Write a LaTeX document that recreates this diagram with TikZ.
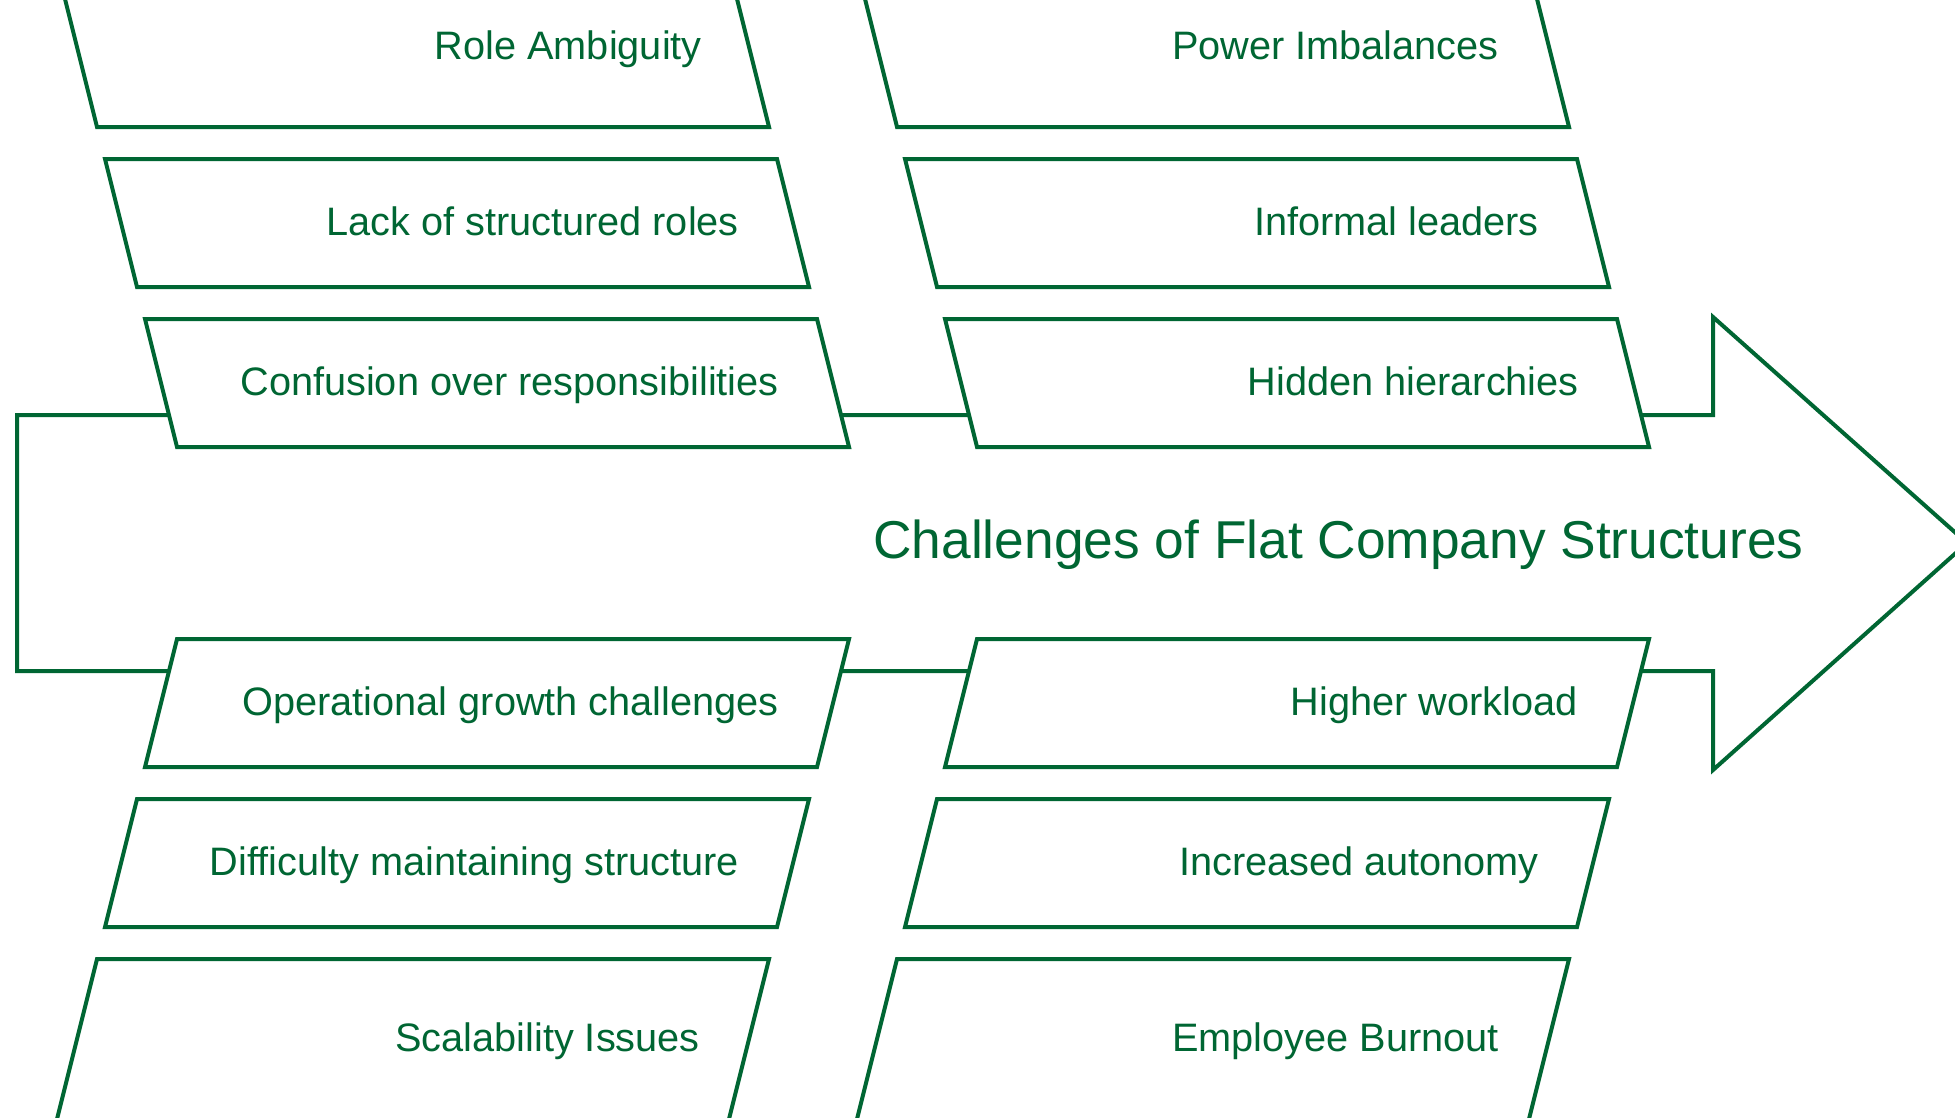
\documentclass[tikz,border=0pt]{standalone}
\usepackage{fontspec}
\setmainfont{Liberation Sans}
\definecolor{fg}{RGB}{0,102,51}
\tikzset{
  line/.style={draw=fg, line width=4pt, line join=miter},
  boxshape/.style={line, fill=white},
  lbl/.style={text=fg, inner sep=0pt, anchor=base east, font=\fontsize{39.7}{46}\selectfont},
  ttl/.style={text=fg, inner sep=0pt, anchor=base, font=\fontsize{53.3}{62}\selectfont}
}
% #1 name, #2 top y, #3 bottom y, #4 top-left x, #5 bottom-left x
\newcommand\pgbox[5]{%
  \coordinate (#1-tl) at (#4,#2);
  \coordinate (#1-tr) at (#4+672,#2);
  \coordinate (#1-br) at (#5+672,#3);
  \coordinate (#1-bl) at (#5,#3);
  \path[boxshape] (#1-tl) -- (#1-tr) -- (#1-br) -- (#1-bl) -- cycle;
}
\begin{document}
\begin{tikzpicture}[x=1pt,y=-1pt]
\useasboundingbox (0,0) rectangle (1955,1117);
\clip (0,0) rectangle (1955,1117);
% spine arrow
\coordinate (s1) at (17,415);
\coordinate (s2) at (1713,415);
\coordinate (s3) at (1713,317);
\coordinate (tip) at (1967,543);
\coordinate (s5) at (1713,770);
\coordinate (s6) at (1713,671);
\coordinate (s7) at (17,671);
\draw[line] (s1) -- (s2) -- (s3) -- (tip) -- (s5) -- (s6) -- (s7) -- cycle;
% left column
\pgbox{role}{-37}{127}{56}{97}
\pgbox{lack}{159}{287}{105}{137}
\pgbox{conf}{319}{447}{145}{177}
\pgbox{oper}{639}{767}{177}{145}
\pgbox{diff}{799}{927}{137}{105}
\pgbox{scal}{959}{1123}{97}{56}
% right column
\pgbox{powr}{-37}{127}{856}{897}
\pgbox{info}{159}{287}{905}{937}
\pgbox{hidd}{319}{447}{945}{977}
\pgbox{high}{639}{767}{977}{945}
\pgbox{incr}{799}{927}{937}{905}
\pgbox{burn}{959}{1123}{897}{856}
% labels
\node[lbl] (troll) at (702,59) {Role Ambiguity};
\node[lbl] (tlack) at (739,235) {Lack of structured roles};
\node[lbl] (tconf) at (779,395) {Confusion over responsibilities};
\node[lbl] (toper) at (779,715) {Operational growth challenges};
\node[lbl] (tdiff) at (739,875) {Difficulty maintaining structure};
\node[lbl] (tscal) at (700,1051) {Scalability Issues};
\node[lbl] (tpowr) at (1499,59) {Power Imbalances};
\node[lbl] (tinfo) at (1539,235) {Informal leaders};
\node[lbl] (thidd) at (1579,395) {Hidden hierarchies};
\node[lbl] (thigh) at (1578,715) {Higher workload};
\node[lbl] (tincr) at (1539,875) {Increased autonomy};
\node[lbl] (tburn) at (1499,1051) {Employee Burnout};
\node[ttl] (title) at (1338.5,558) {Challenges of Flat Company Structures};
\end{tikzpicture}
\end{document}
